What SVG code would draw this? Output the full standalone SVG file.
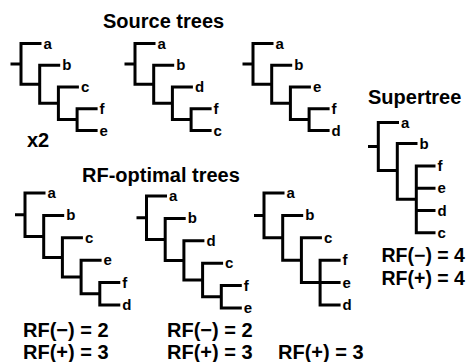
<svg xmlns="http://www.w3.org/2000/svg" width="467" height="362" viewBox="0 0 467 362">
<style>
.br{fill:none;stroke:#000;stroke-width:3;stroke-linejoin:miter;stroke-linecap:butt}
.lf{font-family:"Liberation Sans",Arial,sans-serif;font-weight:bold;font-size:15px;fill:#000}
.tt{font-family:"Liberation Sans",Arial,sans-serif;font-weight:bold;font-size:20px;fill:#000}
.sc{font-family:"Liberation Sans",Arial,sans-serif;font-weight:bold;font-size:19.5px;fill:#000}
</style>
<rect width="467" height="362" fill="#fff"/>
<text class="tt" x="103" y="28">Source trees</text>
<text class="tt" x="27" y="147">x2</text>
<text class="tt" x="368" y="104">Supertree</text>
<text class="tt" x="82" y="181.5">RF-optimal trees</text>

<g id="connectors">
  <g id="src1-branches">
    <path class="br" d="M10.5,63.9H21M41.5,43.5H21V84.3H39.7M60.2,65.3H39.7V103.3H58.4M78.9,87H58.4V119.6H77.1M97.6,108.8H77.1V130.5H97.6"/>
  </g>
  <g id="src2-branches" transform="translate(114,0)">
    <path class="br" d="M10.5,63.9H21M41.5,43.5H21V84.3H39.7M60.2,65.3H39.7V103.3H58.4M78.9,87H58.4V119.6H77.1M97.6,108.8H77.1V130.5H97.6"/>
  </g>
  <g id="src3-branches" transform="translate(232,0)">
    <path class="br" d="M10.5,63.9H21M41.5,43.5H21V84.3H39.7M60.2,65.3H39.7V103.3H58.4M78.9,87H58.4V119.6H77.1M97.6,108.8H77.1V130.5H97.6"/>
  </g>
  <g id="super-branches">
    <path class="br" d="M368,146.5H378.3M399,122.5H378.3V170.5H397.3M417.5,143.5H397.3V199.3H416.3M435.5,166H416.3V232.7H435.5M416.3,188.3H435.5M416.3,210.5H435.5"/>
  </g>
  <g id="rf1-branches">
    <path class="br" d="M15,214.7H25M45.5,193H25V236.4H43.7M64.2,215.4H43.7V257.4H62.4M82.9,237.8H62.4V277H81.1M101.6,260.2H81.1V293.8H99.8M120.3,282.6H99.8V305H120.3"/>
  </g>
  <g id="rf2-branches" transform="translate(121.5,3)">
    <path class="br" d="M15,214.7H25M45.5,193H25V236.4H43.7M64.2,215.4H43.7V257.4H62.4M82.9,237.8H62.4V277H81.1M101.6,260.2H81.1V293.8H99.8M120.3,282.6H99.8V305H120.3"/>
  </g>
  <g id="rf3-branches">
    <path class="br" d="M254,215.4H264M284.5,193H264V237.8H282.7M303.2,215.4H282.7V260.2H301.4M321.9,237.8H301.4V282.6H340.6M340.6,260.2H320.1V305H340.6"/>
  </g>
</g>

<g id="src1-leaves">
  <text class="lf" x="43.5" y="48.5">a</text>
  <text class="lf" x="62.2" y="70.3">b</text>
  <text class="lf" x="80.9" y="92">c</text>
  <text class="lf" x="99.6" y="113.8">f</text>
  <text class="lf" x="99.6" y="135.5">e</text>
</g>
<g id="src2-leaves" transform="translate(114,0)">
  <text class="lf" x="43.5" y="48.5">a</text>
  <text class="lf" x="62.2" y="70.3">b</text>
  <text class="lf" x="80.9" y="92">d</text>
  <text class="lf" x="99.6" y="113.8">f</text>
  <text class="lf" x="99.6" y="135.5">c</text>
</g>
<g id="src3-leaves" transform="translate(232,0)">
  <text class="lf" x="43.5" y="48.5">a</text>
  <text class="lf" x="62.2" y="70.3">b</text>
  <text class="lf" x="80.9" y="92">e</text>
  <text class="lf" x="99.6" y="113.8">f</text>
  <text class="lf" x="99.6" y="135.5">d</text>
</g>
<g id="super-leaves">
  <text class="lf" x="401" y="127.5">a</text>
  <text class="lf" x="419.5" y="148.5">b</text>
  <text class="lf" x="437.5" y="171">f</text>
  <text class="lf" x="437.5" y="193.3">e</text>
  <text class="lf" x="437.5" y="215.5">d</text>
  <text class="lf" x="437.5" y="237.7">c</text>
</g>
<g id="rf1-leaves">
  <text class="lf" x="47.5" y="198">a</text>
  <text class="lf" x="66.2" y="220.4">b</text>
  <text class="lf" x="84.9" y="242.8">c</text>
  <text class="lf" x="103.6" y="265.2">e</text>
  <text class="lf" x="122.3" y="287.6">f</text>
  <text class="lf" x="122.3" y="310">d</text>
</g>
<g id="rf2-leaves" transform="translate(121.5,3)">
  <text class="lf" x="47.5" y="198">a</text>
  <text class="lf" x="66.2" y="220.4">b</text>
  <text class="lf" x="84.9" y="242.8">d</text>
  <text class="lf" x="103.6" y="265.2">c</text>
  <text class="lf" x="122.3" y="287.6">f</text>
  <text class="lf" x="122.3" y="310">e</text>
</g>
<g id="rf3-leaves">
  <text class="lf" x="286.5" y="198">a</text>
  <text class="lf" x="305.2" y="220.4">b</text>
  <text class="lf" x="323.9" y="242.8">c</text>
  <text class="lf" x="342.6" y="265.2">f</text>
  <text class="lf" x="342.6" y="287.6">e</text>
  <text class="lf" x="342.6" y="310">d</text>
</g>

<g id="scores">
  <text class="tt" x="23" y="336.5">RF(−) = 2</text>
  <text class="tt" x="23" y="359">RF(+) = 3</text>
  <text class="tt" x="167" y="336.5">RF(−) = 2</text>
  <text class="tt" x="167" y="359">RF(+) = 3</text>
  <text class="tt" x="278" y="359">RF(+) = 3</text>
  <text class="sc" x="381.5" y="262">RF(−) = 4</text>
  <text class="sc" x="381.5" y="284.5">RF(+) = 4</text>
</g>
</svg>
